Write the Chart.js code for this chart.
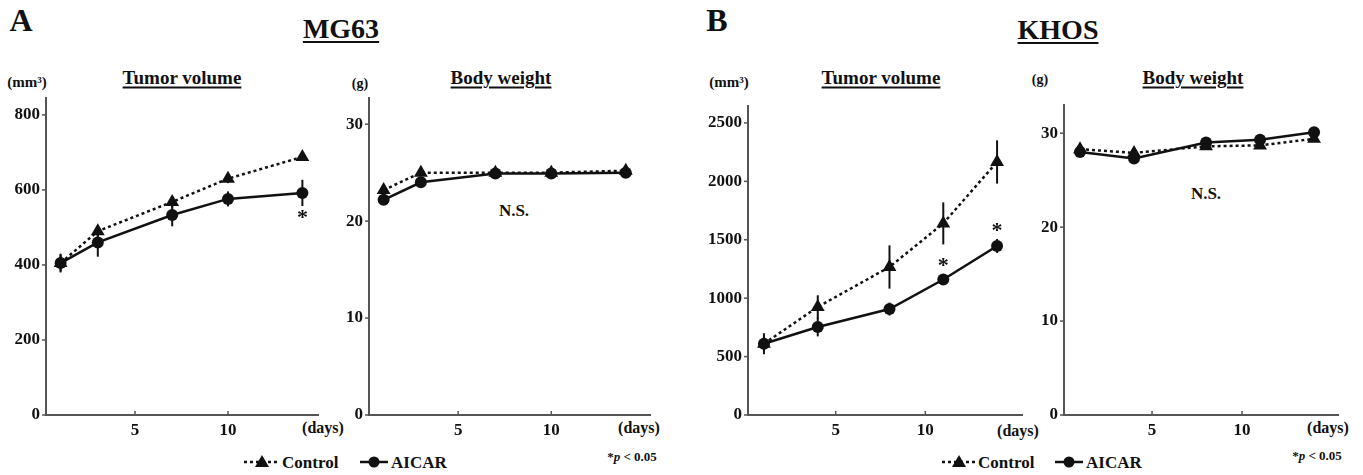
<!DOCTYPE html>
<html>
<head>
<meta charset="utf-8">
<script src="https://cdn.jsdelivr.net/npm/chart.js@4.4.1/dist/chart.umd.min.js"></script>
<style>
  body { margin: 0; background: #fff; width: 1363px; height: 475px; position: relative; overflow: hidden;
         font-family: "Liberation Serif", "DejaVu Serif", serif; font-weight: bold; color: #111; }
  .txt { position: absolute; white-space: nowrap; transform: translate(-50%, -50%); line-height: 1; }
  .left { transform: translate(0, -50%); }
  .u { text-decoration: underline; text-decoration-thickness: 2px; text-underline-offset: 3px; }
  canvas { position: absolute; top: 0; }
  svg { position: absolute; }
</style>
</head>
<body>

<div class="txt" style="left:21px;top:20px;font-size:32px;">A</div>
<div class="txt u" style="left:341px;top:29px;font-size:28px;">MG63</div>
<div class="txt" style="left:717px;top:20px;font-size:32px;">B</div>
<div class="txt u" style="left:1058px;top:30px;font-size:28px;">KHOS</div>

<div class="txt" style="left:27px;top:82px;font-size:15px;">(mm³)</div>
<div class="txt u" style="left:182px;top:77px;font-size:19px;">Tumor volume</div>
<div class="txt" style="left:360px;top:84px;font-size:14px;">(g)</div>
<div class="txt u" style="left:501px;top:77px;font-size:19px;">Body weight</div>
<div class="txt" style="left:729px;top:82px;font-size:15px;">(mm³)</div>
<div class="txt u" style="left:881px;top:77px;font-size:19px;">Tumor volume</div>
<div class="txt" style="left:1040px;top:80px;font-size:14px;">(g)</div>
<div class="txt u" style="left:1193px;top:77px;font-size:19px;">Body weight</div>

<div class="txt" style="left:514px;top:210px;font-size:17px;">N.S.</div>
<div class="txt" style="left:1206px;top:193px;font-size:17px;">N.S.</div>

<div class="txt" style="left:323px;top:428px;font-size:16px;">(days)</div>
<div class="txt" style="left:639px;top:428px;font-size:16px;">(days)</div>
<div class="txt" style="left:1018px;top:431px;font-size:16px;">(days)</div>
<div class="txt" style="left:1328px;top:428px;font-size:16px;">(days)</div>

<div class="txt" style="left:632px;top:456px;font-size:13px;">*<i>p</i> &lt; 0.05</div>
<div class="txt" style="left:1317px;top:455px;font-size:13px;">*<i>p</i> &lt; 0.05</div>

<!-- legends -->
<svg style="left:242px;top:452px;" width="40" height="20">
  <line x1="2" y1="10" x2="38" y2="10" stroke="#111" stroke-width="2.5" stroke-dasharray="3,3"/>
  <polygon points="20,3 27,15 13,15" fill="#111"/>
</svg>
<div class="txt left" style="left:282px;top:462px;font-size:17px;">Control</div>
<svg style="left:358px;top:452px;" width="32" height="20">
  <line x1="2" y1="10" x2="30" y2="10" stroke="#111" stroke-width="2.5"/>
  <circle cx="16" cy="10" r="5.5" fill="#111"/>
</svg>
<div class="txt left" style="left:391px;top:462px;font-size:17px;">AICAR</div>

<svg style="left:940px;top:452px;" width="38" height="20">
  <line x1="2" y1="10" x2="36" y2="10" stroke="#111" stroke-width="2.5" stroke-dasharray="3,3"/>
  <polygon points="19,3 26,15 12,15" fill="#111"/>
</svg>
<div class="txt left" style="left:978px;top:462px;font-size:17px;">Control</div>
<svg style="left:1053px;top:452px;" width="32" height="20">
  <line x1="2" y1="10" x2="30" y2="10" stroke="#111" stroke-width="2.5"/>
  <circle cx="16" cy="10" r="5.5" fill="#111"/>
</svg>
<div class="txt left" style="left:1086px;top:462px;font-size:17px;">AICAR</div>

<script>
// ---- data ----
var mg63Days = [1, 3, 7, 10, 14];
var mg63TumorControl = [405, 490, 568, 630, 688];
var mg63TumorControlErr = [22, 15, 15, 12, 10];
var mg63TumorAicar = [405, 460, 533, 576, 592];
var mg63TumorAicarErr = [25, 38, 30, 20, 35];
var mg63WeightControl = [23.2, 25.0, 25.0, 25.0, 25.2];
var mg63WeightAicar = [22.2, 24.0, 24.9, 24.9, 25.0];

var khosDays = [1, 4, 8, 11, 14];
var khosTumorControl = [610, 925, 1267, 1640, 2166];
var khosTumorControlErr = [90, 100, 185, 180, 185];
var khosTumorAicar = [610, 753, 907, 1160, 1447];
var khosTumorAicarErr = [60, 80, 55, 45, 60];
var khosWeightControl = [28.3, 27.9, 28.6, 28.7, 29.4];
var khosWeightAicar = [28.0, 27.3, 29.0, 29.3, 30.1];

var dayTicks = [5, 10];
var mg63TumorTicks = [0, 200, 400, 600, 800];
var khosTumorTicks = [0, 500, 1000, 1500, 2000, 2500];
var weightTicks = [0, 10, 20, 30];

var INK = '#111';
var AXIS = '#555';
var FONT = '"Liberation Serif", "DejaVu Serif", serif';

// error bars, drawn under the markers
var errorBarPlugin = {
  id: 'errorBars',
  beforeDatasetsDraw: function (chart) {
    var ctx = chart.ctx;
    var yScale = chart.scales.y;
    chart.data.datasets.forEach(function (ds, i) {
      if (!ds.errors) return;
      var meta = chart.getDatasetMeta(i);
      ctx.save();
      ctx.strokeStyle = INK;
      ctx.lineWidth = 2;
      meta.data.forEach(function (pt, j) {
        var v = ds.data[j].y;
        var err = ds.errors[j];
        ctx.beginPath();
        ctx.moveTo(pt.x, yScale.getPixelForValue(v + err));
        ctx.lineTo(pt.x, yScale.getPixelForValue(v - err));
        ctx.stroke();
      });
      ctx.restore();
    });
  }
};

// short tick marks + significance stars
var marksPlugin = {
  id: 'marks',
  afterDraw: function (chart, args, opts) {
    var ctx = chart.ctx;
    var area = chart.chartArea;
    var xs = chart.scales.x, ys = chart.scales.y;
    ctx.save();
    ctx.strokeStyle = AXIS;
    ctx.lineWidth = 1.5;
    xs.ticks.forEach(function (t) {
      var px = xs.getPixelForValue(t.value);
      ctx.beginPath();
      ctx.moveTo(px, area.bottom);
      ctx.lineTo(px, area.bottom - 4);
      ctx.stroke();
    });
    ys.ticks.forEach(function (t) {
      var py = ys.getPixelForValue(t.value);
      ctx.beginPath();
      ctx.moveTo(area.left, py);
      ctx.lineTo(area.left - 4, py);
      ctx.stroke();
    });

    var stars = opts.stars || [];
    ctx.fillStyle = INK;
    ctx.font = 'bold 22px ' + FONT;
    ctx.textAlign = 'center';
    ctx.textBaseline = 'alphabetic';
    stars.forEach(function (s) {
      var pt = chart.getDatasetMeta(s.dataset).data[s.index];
      ctx.fillText('*', pt.x, pt.y + s.offset + 12);
    });
    ctx.restore();
  }
};

var panels = [
  {
    left: 0, width: 340,
    area: { left: 46, right: 318, top: 98, bottom: 415 },
    xMin: 0.215, xMax: 14.84, yMax: 845, yTicks: mg63TumorTicks,
    days: mg63Days,
    control: mg63TumorControl, controlErr: mg63TumorControlErr,
    aicar: mg63TumorAicar, aicarErr: mg63TumorAicarErr,
    stars: [{ dataset: 1, index: 4, offset: 19 }]
  },
  {
    left: 340, width: 340,
    area: { left: 369, right: 650, top: 98, bottom: 415 },
    xMin: 0.215, xMax: 15.3, yMax: 32.7, yTicks: weightTicks,
    days: mg63Days,
    control: mg63WeightControl, controlErr: null,
    aicar: mg63WeightAicar, aicarErr: null,
    stars: []
  },
  {
    left: 680, width: 350,
    area: { left: 748, right: 1023, top: 106, bottom: 415 },
    xMin: 0.11, xMax: 15.39, yMax: 2645, yTicks: khosTumorTicks,
    days: khosDays,
    control: khosTumorControl, controlErr: khosTumorControlErr,
    aicar: khosTumorAicar, aicarErr: khosTumorAicarErr,
    stars: [{ dataset: 1, index: 3, offset: -19 }, { dataset: 1, index: 4, offset: -21 }]
  },
  {
    left: 1030, width: 333,
    area: { left: 1064, right: 1338, top: 105, bottom: 415 },
    xMin: 0.11, xMax: 15.33, yMax: 33, yTicks: weightTicks,
    days: khosDays,
    control: khosWeightControl, controlErr: null,
    aicar: khosWeightAicar, aicarErr: null,
    stars: []
  }
];

function toPoints(days, values) {
  return days.map(function (d, i) { return { x: d, y: values[i] }; });
}

function plainLabel(value) {
  return String(value);
}

function makePanel(p) {
  var canvas = document.createElement('canvas');
  canvas.width = p.width;
  canvas.height = 475;
  canvas.style.left = p.left + 'px';
  document.body.appendChild(canvas);

  var xHeight = 30;
  var yWidth = p.area.left - p.left;
  var tickFont = { family: FONT, size: 17, weight: 'bold' };

  return new Chart(canvas.getContext('2d'), {
    type: 'line',
    data: {
      datasets: [
        {
          label: 'Control',
          data: toPoints(p.days, p.control),
          errors: p.controlErr,
          borderColor: INK,
          backgroundColor: INK,
          borderWidth: 2.5,
          borderDash: [3, 3],
          pointStyle: 'triangle',
          pointRadius: 8,
          pointBorderWidth: 0,
          tension: 0,
          clip: false
        },
        {
          label: 'AICAR',
          data: toPoints(p.days, p.aicar),
          errors: p.aicarErr,
          borderColor: INK,
          backgroundColor: INK,
          borderWidth: 2.5,
          pointStyle: 'circle',
          pointRadius: 6,
          pointBorderWidth: 0,
          tension: 0,
          clip: false
        }
      ]
    },
    options: {
      responsive: false,
      animation: false,
      events: [],
      layout: {
        padding: {
          left: 0,
          right: p.left + p.width - p.area.right,
          top: p.area.top,
          bottom: 475 - p.area.bottom - xHeight
        }
      },
      plugins: {
        legend: { display: false },
        tooltip: { enabled: false },
        marks: { stars: p.stars }
      },
      scales: {
        x: {
          type: 'linear',
          min: p.xMin,
          max: p.xMax,
          afterBuildTicks: function (scale) {
            scale.ticks = dayTicks.map(function (v) { return { value: v }; });
          },
          afterFit: function (scale) { scale.height = xHeight; },
          grid: { display: false, drawTicks: false },
          border: { display: true, color: AXIS, width: 2 },
          ticks: { color: INK, font: tickFont, padding: 5, maxRotation: 0, autoSkip: false, callback: plainLabel }
        },
        y: {
          type: 'linear',
          min: 0,
          max: p.yMax,
          afterBuildTicks: function (scale) {
            scale.ticks = p.yTicks.map(function (v) { return { value: v }; });
          },
          afterFit: function (scale) { scale.width = yWidth; },
          grid: { display: false, drawTicks: false },
          border: { display: true, color: AXIS, width: 2 },
          ticks: { color: INK, font: tickFont, padding: 6, autoSkip: false, callback: plainLabel }
        }
      }
    },
    plugins: [errorBarPlugin, marksPlugin]
  });
}

panels.forEach(makePanel);
</script>
</body>
</html>
